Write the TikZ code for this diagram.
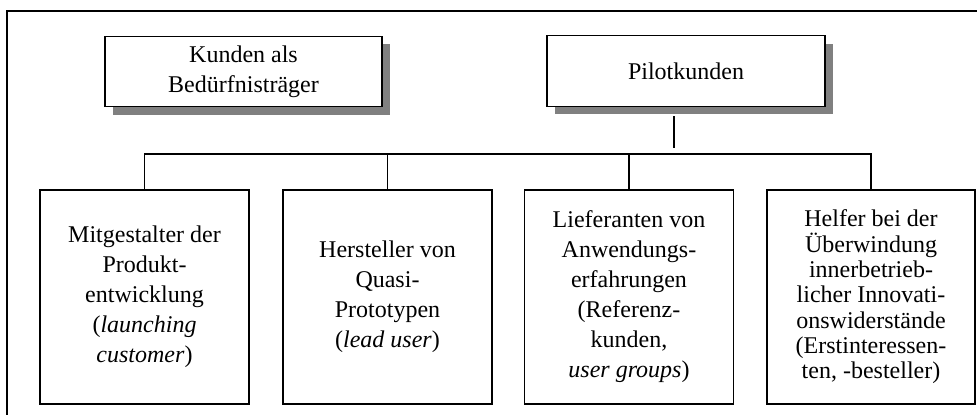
\documentclass[tikz,border=0pt]{standalone}
\usepackage{fontspec}
\setmainfont{Liberation Serif}
\usetikzlibrary{shadows,calc}
\begin{document}
\begin{tikzpicture}[x=0.75pt,y=-0.75pt,
  boxbase/.style={draw=black,line width=0.8pt,fill=white,align=center,inner sep=0pt,outer sep=0pt,
    font=\fontsize{18pt}{22.5pt}\selectfont},
  topbox/.style={boxbase,minimum height=53pt,
    drop shadow={shadow xshift=6pt,shadow yshift=-6pt,fill=black!50,opacity=1}},
  lowbox/.style={boxbase,minimum width=156.75pt,minimum height=160.5pt},
  conn/.style={draw=black,line width=0.8pt}]
\useasboundingbox (0,0) rectangle (977,414);
\clip (0,0) rectangle (977,414);
% outer frame
\draw[line width=1.5pt] (7,430) -- (7,11) -- (990,11);
% top boxes
\node[topbox,minimum width=207.75pt] (kunden) at (243.5,71.5) {Kunden als\\Bedürfnisträger};
\node[topbox,minimum width=208.5pt] (pilot) at (686,71) {Pilotkunden};
% lower boxes
\node[lowbox] (b1) at (144.5,297) {Mitgestalter der\\Produkt-\\entwicklung\\(\textit{launching}\\\textit{customer})};
\node[lowbox] (b2) at (387.5,297) {Hersteller von\\Quasi-\\Prototypen\\(\textit{lead user})};
\node[lowbox] (b3) at (629,297) {Lieferanten von\\Anwendungs-\\erfahrungen\\(Referenz-\\kunden,\\\textit{user groups})};
\node[lowbox,minimum width=156pt,font=\fontsize{18pt}{19pt}\selectfont] (b4) at (871,297) {Helfer bei der\\Überwindung\\innerbetrieb-\\licher Innovati-\\onswiderstände\\(Erstinteressen-\\ten, -besteller)};
% connectors
\coordinate (bus) at (0,154);
\coordinate (p1) at (674,116);
\coordinate (p2) at (674,148);
\draw[conn] (p1) -- (p2);
\draw[conn] (b1.north) -- (b1.north |- bus) -- (b4.north |- bus) -- (b4.north);
\draw[conn] (b2.north) -- (b2.north |- bus);
\draw[conn] (b3.north) -- (b3.north |- bus);
\end{tikzpicture}
\end{document}
